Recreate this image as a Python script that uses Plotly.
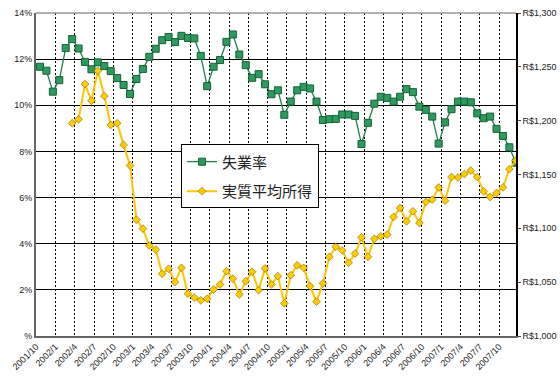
import plotly.graph_objects as go

# ---- data ----
months = []
y, m = 2001, 10
for _ in range(75):
    months.append(f"{y}/{m}")
    m += 1
    if m > 12:
        m = 1
        y += 1

unemployment = [
    11.67, 11.50, 10.59, 11.09, 12.48, 12.87, 12.46, 11.88, 11.56, 11.86,
    11.70, 11.48, 11.18, 10.88, 10.49, 11.14, 11.57, 12.10, 12.45, 12.82,
    12.96, 12.74, 13.01, 12.92, 12.90, 12.14, 10.83, 11.67, 11.96, 12.75,
    13.07, 12.20, 11.74, 11.19, 11.35, 10.91, 10.48, 10.65, 9.59, 10.16,
    10.65, 10.80, 10.73, 10.16, 9.36, 9.40, 9.41, 9.60, 9.60, 9.54,
    8.32, 9.24, 10.07, 10.37, 10.32, 10.16, 10.37, 10.70, 10.57, 9.94,
    9.80, 9.51, 8.34, 9.26, 9.83, 10.16, 10.16, 10.13, 9.65, 9.44,
    9.51, 8.98, 8.67, 8.18, 7.51,
]

income = [None] * 5 + [
    1197.6, 1201.3, 1234.0, 1218.5, 1246.3,
    1222.9, 1196.0, 1197.6, 1177.5, 1158.4,
    1108.0, 1099.7, 1084.0, 1080.3, 1057.8,
    1062.4, 1050.0, 1063.3, 1039.3, 1035.6,
    1033.1, 1034.6, 1043.2, 1047.9, 1060.2,
    1053.2, 1038.6, 1050.9, 1059.6, 1042.6,
    1062.7, 1047.9, 1055.6, 1030.3, 1056.5,
    1065.7, 1063.3, 1046.3, 1031.9, 1048.8,
    1073.5, 1082.8, 1079.6, 1068.0, 1076.6,
    1091.7, 1073.5, 1090.2, 1092.6, 1094.2,
    1110.6, 1118.9, 1106.5, 1115.8, 1105.0,
    1124.5, 1126.6, 1138.0, 1125.7, 1147.6,
    1147.2, 1150.4, 1153.7, 1147.6, 1134.3,
    1129.1, 1132.8, 1138.0, 1155.0, 1163.0,
]

tick_labels = months[::3]          # 2001/10 ... 2007/10
left_ticks = [0, 2, 4, 6, 8, 10, 12, 14]
left_labels = ["%", "2%", "4%", "6%", "8%", "10%", "12%", "14%"]

x = list(range(len(months)))
tick_pos = [3 * j - 0.6 for j in range(len(tick_labels))]

FONT = "Liberation Sans"

fig = go.Figure()
fig.add_trace(go.Scatter(
    x=x, y=unemployment, name="失業率", mode="lines+markers",
    line=dict(color="#1f7f4d", width=1.3),
    marker=dict(symbol="square", size=7, color="#2e9a5e",
                line=dict(color="#16603a", width=1)),
    legendgroup="a", yaxis="y",
))
fig.add_trace(go.Scatter(
    x=x, y=income, name="実質平均所得", mode="lines+markers",
    line=dict(color="#ffc400", width=2),
    marker=dict(symbol="diamond", size=6, color="#ffcc00",
                line=dict(color="#6b5200", width=0.5)),
    legendgroup="b", yaxis="y2",
))

fig.update_layout(
    template="none",
    width=560, height=383,
    margin=dict(l=36, r=44, t=13, b=47, autoexpand=False),
    paper_bgcolor="white", plot_bgcolor="white",
    font=dict(family=FONT, size=9, color="#222"),
    xaxis=dict(
        range=[-0.62, 74.03], tickmode="array", tickvals=tick_pos,
        ticktext=tick_labels, tickangle=-45, showgrid=True,
        gridcolor="black", gridwidth=1, griddash="2px,2px",
        showline=True, linecolor="#666", linewidth=2, ticks="",
        zeroline=False, automargin=False, tickfont=dict(size=9, family=FONT),
    ),
    yaxis=dict(
        range=[0, 14], tickmode="array", tickvals=left_ticks,
        ticktext=left_labels, showgrid=True, gridcolor="black",
        gridwidth=1, showline=True, linecolor="#666", linewidth=2,
        zeroline=False, ticks="", automargin=False,
        tickfont=dict(size=9, family=FONT),
    ),
    yaxis2=dict(
        range=[1000, 1300], dtick=50, tickprefix="R$", tickformat=",d",
        overlaying="y", side="right", showgrid=False, showline=True,
        linecolor="black", linewidth=1.5, ticks="outside", ticklen=3,
        tickcolor="#444", zeroline=False, automargin=False,
        tickfont=dict(size=9, family=FONT),
    ),
    legend=dict(
        x=0.302, y=0.593, xanchor="left", yanchor="top",
        bgcolor="white", bordercolor="black", borderwidth=1,
        font=dict(size=15, family="Noto Sans CJK JP", color="#222"),
        tracegroupgap=7, traceorder="grouped",
    ),
    shapes=[dict(type="line", xref="paper", yref="paper", x0=0, x1=1,
                 y0=1, y1=1, line=dict(color="#999", width=1.5))],
)

fig.write_html(
    "out.html",
    config={"displayModeBar": False},
    post_script="document.body.style.margin='0';"
                "document.body.style.overflow='hidden';",
)
